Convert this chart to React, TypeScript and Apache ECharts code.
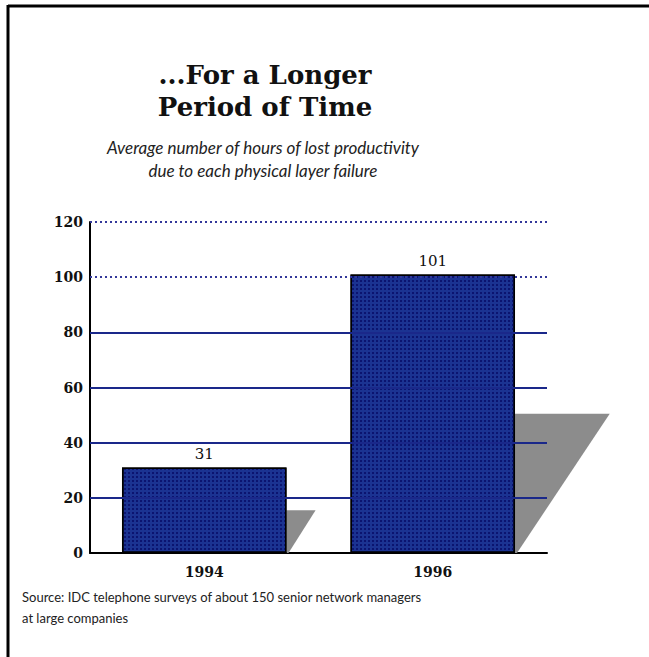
import React, { useEffect, useRef } from "react";
import * as echarts from "echarts";

const categories = ["1994", "1996"];
const values = [31, 101];
const yTicks = [0, 20, 40, 60, 80, 100, 120];
const solidGridValues = [20, 40, 60, 80];
const dottedGridValues = [100, 120];
const titleLines = ["...For a Longer", "Period of Time"];
const subtitleLines = [
  "Average number of hours of lost productivity",
  "due to each physical layer failure",
];
const sourceLines = [
  "Source: IDC telephone surveys of about 150 senior network managers",
  "at large companies",
];

const BAR_RATIO = 0.72;

export default function App() {
  const ref = useRef<HTMLDivElement>(null);
  useEffect(() => {
    if (!ref.current) return;
    const chart = echarts.init(ref.current, null, { renderer: "svg" });
    const option: any = {
      animation: false,
      backgroundColor: "#ffffff",
      grid: { left: 90, right: 102, top: 222, bottom: 104 },
      xAxis: {
        type: "category",
        data: categories,
        axisLine: { show: true, onZero: false, lineStyle: { color: "#000", width: 2 } },
        axisTick: { show: false },
        axisLabel: {
          margin: 12,
          fontFamily: "DejaVu Serif",
          fontWeight: "bold",
          fontSize: 14,
          color: "#111",
        },
      },
      yAxis: {
        type: "value",
        min: 0,
        max: 120,
        interval: 20,
        axisLine: { show: true, lineStyle: { color: "#000", width: 2 } },
        axisTick: { show: false },
        splitLine: { show: false },
        axisLabel: {
          margin: 7,
          fontFamily: "DejaVu Serif",
          fontWeight: "bold",
          fontSize: 14,
          color: "#111",
          formatter: (v: number) => (yTicks.includes(v) ? String(v) : ""),
        },
      },
      series: [
        {
          type: "custom",
          z: 1,
          silent: true,
          data: values.map((v, i) => [i, v]),
          renderItem: (params: any, api: any) => {
            const idx = api.value(0);
            const val = api.value(1);
            const center = api.coord([idx, 0]);
            const half = (api.size([1, 0])[0] * BAR_RATIO) / 2;
            const right = center[0] + half;
            const base = center[1];
            const top = api.coord([idx, val / 2])[1];
            const w = (base - top) * 0.68;
            return {
              type: "polygon",
              shape: {
                points: [
                  [right, top],
                  [right + w, top],
                  [right + 2, base],
                  [right, base],
                ],
              },
              style: { fill: "#8c8c8c" },
            };
          },
        },
        {
          type: "line",
          z: 2,
          data: [],
          silent: true,
          markLine: {
            silent: true,
            symbol: "none",
            label: { show: false },
            data: [
              ...solidGridValues.map((v) => ({
                yAxis: v,
                lineStyle: { type: "solid", color: "#1a288a", width: 2 },
              })),
              ...dottedGridValues.map((v) => ({
                yAxis: v,
                lineStyle: { type: [2, 3], color: "#33389a", width: 1.8 },
              })),
            ],
          },
        },
        {
          type: "bar",
          z: 3,
          data: values,
          barWidth: (BAR_RATIO * 100).toFixed(0) + "%",
          itemStyle: {
            color: "#1b3392",
            borderColor: "#000",
            borderWidth: 1.5,
            decal: {
              symbol: "rect",
              symbolSize: 1,
              color: "#0b1470",
              dashArrayX: [2, 2],
              dashArrayY: [2, 2],
            },
          },
          label: {
            show: true,
            position: "top",
            distance: 6,
            fontFamily: "DejaVu Serif",
            fontSize: 15,
            color: "#111",
          },
        },
      ],
      graphic: [
        {
          type: "line",
          shape: { x1: 8, y1: 6, x2: 649, y2: 6 },
          style: { stroke: "#000", lineWidth: 3 },
        },
        {
          type: "line",
          shape: { x1: 8, y1: 5, x2: 8, y2: 657 },
          style: { stroke: "#000", lineWidth: 3 },
        },
        ...titleLines.map((t, i) => ({
          type: "text",
          x: 265,
          y: 75 + i * 32,
          style: {
            text: t,
            textAlign: "center",
            textVerticalAlign: "middle",
            font: "bold 26px 'DejaVu Serif'",
            fill: "#111",
          },
        })),
        ...subtitleLines.map((t, i) => ({
          type: "text",
          x: 263,
          y: 147 + i * 23,
          style: {
            text: t,
            textAlign: "center",
            textVerticalAlign: "middle",
            font: "italic 17px Lato",
            fill: "#222",
          },
        })),
        ...sourceLines.map((t, i) => ({
          type: "text",
          x: 22,
          y: 597 + i * 21,
          style: {
            text: t,
            textAlign: "left",
            textVerticalAlign: "middle",
            font: "13px Lato",
            fill: "#222",
          },
        })),
      ],
    };
    chart.setOption(option);
    return () => chart.dispose();
  }, []);
  return (
    <div
      ref={ref}
      style={{ position: "fixed", left: 0, top: 0, width: 649, height: 657 }}
    />
  );
}
